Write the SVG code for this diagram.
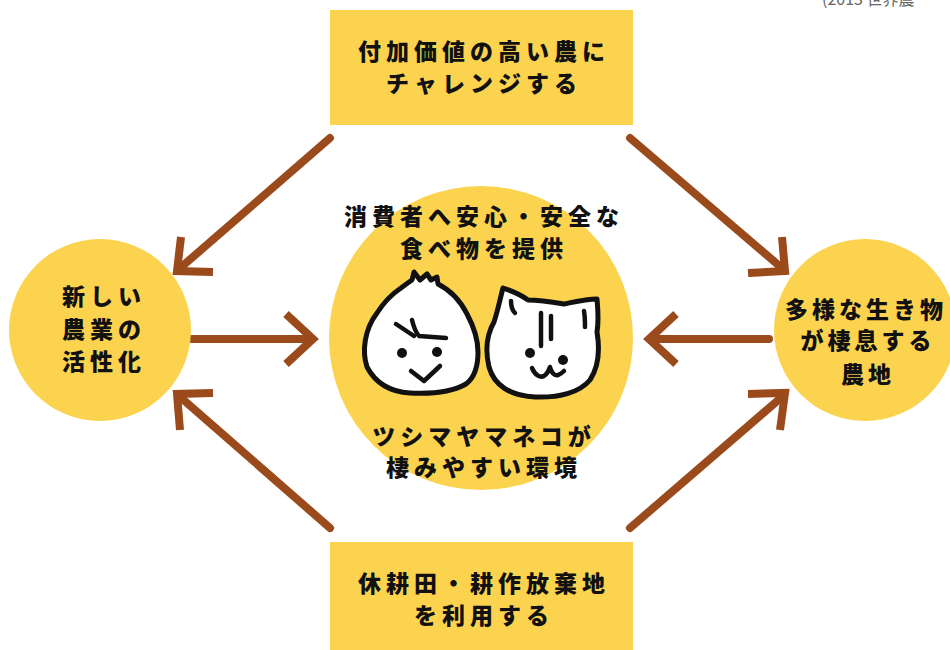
<svg xmlns="http://www.w3.org/2000/svg" width="950" height="650" viewBox="0 0 950 650">
  <defs>
    <style>
      .box { fill: #FCD34F; }
      .lbl { font-family: "Noto Sans CJK JP", "Noto Sans", sans-serif; font-weight: 900; font-size: 23px; letter-spacing: 5px; fill: #111; text-anchor: middle; }
      .tight { letter-spacing: 4px; }
      .arrow { fill: none; stroke: #9B4A1B; stroke-width: 8; stroke-linecap: round; }
      .head { fill: none; stroke: #9B4A1B; stroke-width: 8; stroke-linecap: butt; stroke-linejoin: miter; }
      .ink { fill: none; stroke: #111; stroke-width: 4.5; stroke-linecap: round; stroke-linejoin: round; }
      .face { fill: #fff; stroke: #111; stroke-width: 5; stroke-linejoin: round; }
      .note { font-family: "Noto Sans CJK JP", "Liberation Sans", sans-serif; font-size: 16px; fill: #666; }
    </style>
  </defs>

  <rect width="950" height="650" fill="#fff"/>

  <text class="note" x="822" y="5">(2013 世界農</text>

  <!-- connectors -->
  <g id="connectors">
    <!-- top box -> left circle -->
    <line class="arrow" x1="330" y1="138" x2="179" y2="269"/>
    <polyline class="head" points="181,237 177,271 213,272"/>
    <!-- top box -> right circle -->
    <line class="arrow" x1="630" y1="138" x2="783" y2="269"/>
    <polyline class="head" points="782,237 785,271 748,273"/>
    <!-- bottom box -> left circle -->
    <line class="arrow" x1="330" y1="528" x2="179" y2="396"/>
    <polyline class="head" points="180,430 177,394 213,393"/>
    <!-- bottom box -> right circle -->
    <line class="arrow" x1="630" y1="528" x2="783" y2="396"/>
    <polyline class="head" points="748,394 785,393 780,430"/>
    <!-- left circle -> center -->
    <line class="arrow" x1="192" y1="339" x2="311" y2="339"/>
    <polyline class="head" points="286,314 313,339 286,364"/>
    <!-- right circle -> center -->
    <line class="arrow" x1="769" y1="339" x2="651" y2="339"/>
    <polyline class="head" points="676,314 649,339 676,364"/>
  </g>

  <g id="node-top">
    <rect class="box" x="330" y="10" width="303" height="115"/>
    <text class="lbl" x="484" y="60">付加価値の高い農に</text>
    <text class="lbl" x="484" y="92">チャレンジする</text>
  </g>

  <g id="node-bottom">
    <rect class="box" x="330" y="542" width="303" height="115"/>
    <text class="lbl" x="484" y="592">休耕田・耕作放棄地</text>
    <text class="lbl" x="484" y="624">を利用する</text>
  </g>

  <g id="node-left">
    <circle class="box" cx="100" cy="330" r="91"/>
    <text class="lbl" x="104" y="305">新しい</text>
    <text class="lbl" x="104" y="338">農業の</text>
    <text class="lbl" x="104" y="370">活性化</text>
  </g>

  <g id="node-right">
    <circle class="box" cx="865" cy="330" r="91"/>
    <text class="lbl tight" x="866" y="318">多様な生き物</text>
    <text class="lbl tight" x="868" y="349">が棲息する</text>
    <text class="lbl tight" x="868" y="383">農地</text>
  </g>

  <g id="node-center">
    <circle class="box" cx="481" cy="338" r="152"/>
    <text class="lbl" x="484" y="225">消費者へ安心・安全な</text>
    <text class="lbl" x="484" y="257">食べ物を提供</text>
    <text class="lbl" x="484" y="445">ツシマヤマネコが</text>
    <text class="lbl" x="484" y="476">棲みやすい環境</text>

    <!-- child face -->
    <g id="child">
      <path class="face" d="M 367,367 C 362,352 364,330 377,313 C 384,302 392,294 401,288 C 405,285 409,282 412,280 L 414,272 L 420,280 L 427,274 L 431,280 L 437,277 L 438,284 C 450,290 460,300 467,314 C 474,327 478,340 478,352 C 478,366 474,378 466,384 C 452,392 430,394 410,393 C 392,392 376,384 367,367 Z"/>
      <path class="ink" d="M 396,324 L 414,336"/>
      <path class="ink" d="M 412,320 C 414,328 416,333 419,336 L 446,338"/>
      <circle cx="402" cy="353" r="5" fill="#111"/>
      <circle cx="437" cy="352" r="5" fill="#111"/>
      <path class="ink" d="M 411,371 L 424,381 L 440,366"/>
    </g>

    <!-- cat face -->
    <g id="cat">
      <path class="face" d="M 503,288 C 512,291 521,295 528,300 C 540,300 552,302 564,304 C 574,302 586,299 597,299 C 598,310 599,320 597,332 C 600,350 598,368 590,380 C 580,392 560,398 535,397 C 510,396 494,385 489,367 C 485,350 486,336 494,322 C 498,310 500,299 503,288 Z"/>
      <path class="ink" d="M 511,301 C 511,306 512,310 515,313"/>
      <path class="ink" d="M 584,311 C 585,317 585,322 585,327"/>
      <path class="ink" d="M 541,313 L 541,346"/>
      <path class="ink" d="M 551,316 L 551,339"/>
      <circle cx="530" cy="353" r="5" fill="#111"/>
      <circle cx="563" cy="360" r="5" fill="#111"/>
      <path class="ink" d="M 532,368 C 535,375 540,378 544,376 C 547,374 549,370 550,367 C 551,372 554,376 558,375 C 561,374 563,372 564,371"/>
    </g>
  </g>
</svg>
